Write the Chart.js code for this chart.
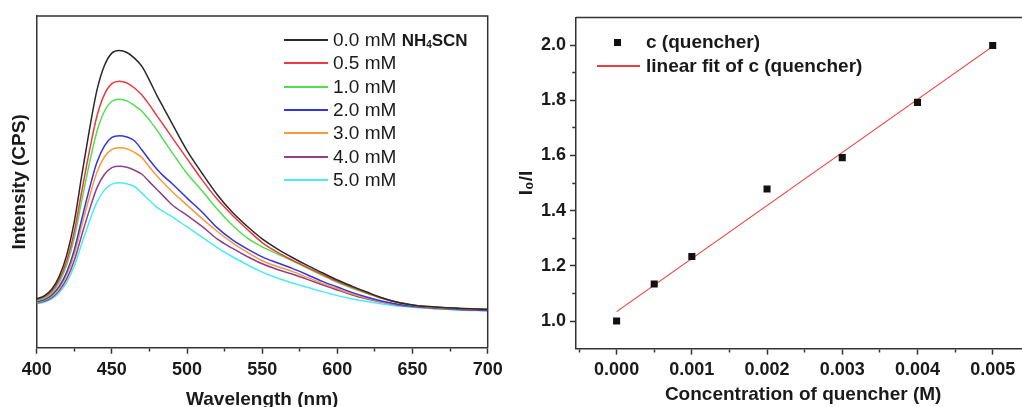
<!DOCTYPE html>
<html>
<head>
<meta charset="utf-8">
<script src="https://cdn.jsdelivr.net/npm/chart.js@4.4.1/dist/chart.umd.min.js"></script>
<style>
  html, body { margin: 0; padding: 0; background: #fff; }
  body { width: 1022px; height: 407px; overflow: hidden; position: relative; font-family: "Liberation Sans", Arial, sans-serif; color: #1a1a1a; }
  canvas { position: absolute; top: 0; }
  #spectra { left: 0; }
  #sternVolmer { left: 505px; }
  .row { position: absolute; height: 22px; line-height: 22px; white-space: nowrap; }
  .swatch { position: absolute; height: 2px; }
  .lbl { position: absolute; font-size: 19px; }
  .lbl b { font-size: 17px; }
  .lbl sub { font-size: 10px; vertical-align: -2px; }
  .bold { font-weight: bold; }
</style>
</head>
<body>
<canvas id="spectra" width="510" height="407"></canvas>
<canvas id="sternVolmer" width="540" height="407"></canvas>
<div id="legendLeft"></div>
<div id="legendRight"></div>
<script>
// --- left panel: emission spectra (arbitrary intensity units, no y labels) ---
const wavelengths = [400, 405, 410, 415, 420, 425, 430, 435, 440, 445, 450, 455, 460, 465,
  470, 475, 480, 485, 490, 500, 510, 520, 530, 540, 550, 560, 570, 580, 590, 600, 610, 620, 630, 640, 650, 660, 680, 700];

const c00 = [14.7, 15.6, 17.6, 21.5, 28.0, 38.0, 52.0, 65.5, 77.5, 85.0, 88.8, 89.6, 89.0, 87.3,
  84.8, 80.6, 76.0, 71.8, 67.6, 59.4, 52.6, 46.2, 40.9, 36.6, 32.8, 29.8, 27.2, 24.8, 22.6, 20.4, 18.5, 16.7, 15.0, 13.7, 12.9, 12.4, 11.9, 11.6];
const c05 = [14.5, 15.3, 17.0, 20.5, 26.2, 35.0, 47.2, 59.1, 69.7, 76.3, 79.6, 80.3, 79.8, 78.3,
  76.2, 73.2, 69.9, 66.7, 63.4, 57.0, 50.6, 44.8, 40.0, 35.7, 31.7, 28.8, 26.4, 24.2, 22.1, 20.0, 18.2, 16.5, 14.9, 13.7, 12.9, 12.4, 11.9, 11.6];
const c10 = [14.2, 14.9, 16.5, 19.7, 25.0, 33.1, 44.4, 55.4, 65.1, 71.2, 74.3, 74.9, 74.4, 73.0,
  71.3, 68.6, 65.6, 62.2, 58.9, 52.5, 47.3, 41.8, 37.0, 33.1, 30.4, 28.3, 26.2, 24.0, 21.8, 19.7, 17.9, 16.3, 14.8, 13.6, 12.8, 12.3, 11.8, 11.5];
const c20 = [13.9, 14.5, 15.9, 18.5, 22.8, 29.5, 38.8, 47.8, 55.8, 60.8, 63.4, 63.9, 63.5, 62.4,
  59.6, 56.6, 53.8, 51.5, 49.5, 45.1, 40.9, 36.2, 32.6, 29.8, 27.4, 25.6, 23.9, 22.0, 20.0, 18.3, 16.6, 15.2, 14.0, 13.1, 12.5, 12.1, 11.6, 11.3];
const c30 = [13.7, 14.3, 15.5, 18.0, 22.0, 28.2, 36.9, 45.3, 52.8, 57.5, 59.8, 60.3, 60.0, 58.9,
  57.3, 54.5, 51.8, 49.4, 47.1, 43.0, 38.9, 35.1, 31.7, 28.8, 26.2, 24.5, 23.0, 21.2, 19.4, 17.8, 16.2, 14.9, 13.8, 13.0, 12.4, 12.0, 11.6, 11.3];
const c40 = [13.5, 14.0, 15.1, 17.2, 20.8, 26.3, 34.0, 41.4, 48.1, 52.2, 54.3, 54.7, 54.4, 53.5,
  52.3, 50.0, 47.7, 45.4, 43.1, 39.9, 36.6, 32.8, 30.0, 27.5, 25.3, 23.6, 22.2, 20.6, 19.0, 17.4, 15.9, 14.7, 13.7, 12.9, 12.4, 12.0, 11.5, 11.2];
const c50 = [13.3, 13.7, 14.7, 16.6, 19.8, 24.6, 31.4, 38.0, 43.8, 47.5, 49.3, 49.7, 49.4, 48.6,
  46.6, 44.4, 42.3, 40.9, 39.5, 36.4, 33.3, 30.2, 27.5, 25.0, 22.8, 21.0, 19.5, 18.2, 16.9, 15.7, 14.7, 13.9, 13.2, 12.6, 12.2, 11.9, 11.4, 11.1];

const spectraSeries = [c00, c05, c10, c20, c30, c40, c50];
const spectraLabels = ['0.0 mM', '0.5 mM', '1.0 mM', '2.0 mM', '3.0 mM', '4.0 mM', '5.0 mM'];
const spectraColors = ['#2a2a2a', '#f0393c', '#4fe04f', '#3434e4', '#fa9a3c', '#8f3f8f', '#48ecf2'];
const wavelengthTicks = [400, 425, 450, 475, 500, 525, 550, 575, 600, 625, 650, 675, 700];

// --- right panel: Stern-Volmer plot ---
const quencherConc = [0, 0.0005, 0.001, 0.002, 0.003, 0.004, 0.005];
const ratioI0I = [1.0, 1.134, 1.234, 1.478, 1.592, 1.792, 1.998];
const fitConc = [0, 0.005];
const fitRatio = [1.034, 1.995];
const concTicks = [-0.0005, 0, 0.0005, 0.001, 0.0015, 0.002, 0.0025, 0.003, 0.0035, 0.004, 0.0045, 0.005];
const ratioTicks = [1.0, 1.1, 1.2, 1.3, 1.4, 1.5, 1.6, 1.7, 1.8, 1.9, 2.0];

const axisColor = '#333';
const textColor = '#1a1a1a';
const fontFamily = '"Liberation Sans", Arial, sans-serif';

// top + right edge of the plot frame
const framePlugin = {
  id: 'frame',
  afterDraw(chart) {
    const { ctx, chartArea: a } = chart;
    ctx.save();
    ctx.strokeStyle = axisColor;
    ctx.lineWidth = 1.5;
    ctx.beginPath();
    ctx.moveTo(a.left, a.top);
    ctx.lineTo(a.right, a.top);
    ctx.lineTo(a.right, a.bottom);
    ctx.stroke();
    ctx.restore();
  }
};

// minor ticks: short dash next to the axis line
// (x ticks are stroked from the axis outward, left-y ticks from the outside in)
const minorDash = (isMinor, pattern) => (ctx) => (ctx.tick && isMinor(ctx.tick.value) ? pattern : []);

new Chart(document.getElementById('spectra'), {
  type: 'line',
  data: {
    datasets: spectraSeries.map((vals, i) => ({
      label: spectraLabels[i],
      data: wavelengths.map((w, j) => ({ x: w, y: vals[j] })),
      borderColor: spectraColors[i],
      borderWidth: 1.5,
      pointRadius: 0,
      cubicInterpolationMode: 'monotone',
      order: i
    }))
  },
  options: {
    responsive: false,
    animation: false,
    layout: { padding: { top: 16, right: 22.3, left: 0, bottom: 0 } },
    plugins: { legend: { display: false }, tooltip: { enabled: false } },
    scales: {
      x: {
        type: 'linear',
        min: 400, max: 700,
        afterBuildTicks: (s) => { s.ticks = wavelengthTicks.map(v => ({ value: v })); },
        afterFit: (s) => { s.height = 59.3; },
        ticks: {
          autoSkip: false, maxRotation: 0, padding: 5.5, color: textColor,
          font: { family: fontFamily, size: 18, weight: 'bold' },
          callback: (v) => (v % 50 === 0 ? String(v) : '')
        },
        grid: {
          drawOnChartArea: false, tickLength: 6, tickColor: axisColor, tickWidth: 1.5,
          tickBorderDash: minorDash(v => v % 50 !== 0, [3, 20])
        },
        border: { color: axisColor, width: 1.5 },
        title: {
          display: true, text: 'Wavelength (nm)', color: textColor,
          font: { family: fontFamily, size: 19, weight: 'bold' },
          padding: { top: 0, bottom: -3.8 }
        }
      },
      y: {
        min: 0, max: 100,
        afterFit: (s) => { s.width = 36.7; },
        ticks: { display: false },
        grid: { drawOnChartArea: false, drawTicks: false },
        border: { color: axisColor, width: 1.5 },
        title: {
          display: true, text: 'Intensity (CPS)', color: textColor,
          font: { family: fontFamily, size: 19, weight: 'bold' },
          padding: { top: 8.6, bottom: 0 }
        }
      }
    }
  },
  plugins: [framePlugin]
});

new Chart(document.getElementById('sternVolmer'), {
  type: 'scatter',
  data: {
    datasets: [
      {
        label: 'c (quencher)',
        data: quencherConc.map((c, i) => ({ x: c, y: ratioI0I[i] })),
        pointStyle: 'rect',
        pointRadius: 5,
        backgroundColor: '#111',
        borderWidth: 0,
        order: 0
      },
      {
        label: 'linear fit of c (quencher)',
        type: 'line',
        data: fitConc.map((c, i) => ({ x: c, y: fitRatio[i] })),
        borderColor: '#ee3b3b',
        borderWidth: 1.2,
        pointRadius: 0,
        order: 1
      }
    ]
  },
  options: {
    responsive: false,
    animation: false,
    layout: { padding: { top: 17.4, right: 14.7, left: 0, bottom: 0 } },
    plugins: { legend: { display: false }, tooltip: { enabled: false } },
    scales: {
      x: {
        type: 'linear',
        min: -0.00054, max: 0.0055,
        afterBuildTicks: (s) => { s.ticks = concTicks.map(v => ({ value: v })); },
        afterFit: (s) => { s.height = 58.4; },
        ticks: {
          autoSkip: false, maxRotation: 0, padding: 4.3, color: textColor,
          font: { family: fontFamily, size: 18, weight: 'bold' },
          callback: (v) => (Math.round(v * 2000) % 2 === 0 && v >= 0 ? v.toFixed(3) : '')
        },
        grid: {
          drawOnChartArea: false, tickLength: 6, tickColor: axisColor, tickWidth: 1.5,
          tickBorderDash: minorDash(v => Math.round(v * 2000) % 2 !== 0, [3, 20])
        },
        border: { color: axisColor, width: 1.5 },
        title: {
          display: true, text: 'Concentration of quencher (M)', color: textColor,
          font: { family: fontFamily, size: 19, weight: 'bold' },
          padding: { top: 0, bottom: 0.6 }
        }
      },
      y: {
        min: 0.9, max: 2.1,
        afterBuildTicks: (s) => { s.ticks = ratioTicks.map(v => ({ value: v })); },
        afterFit: (s) => { s.width = 71; },
        ticks: {
          autoSkip: false, padding: 4, color: textColor,
          font: { family: fontFamily, size: 18, weight: 'bold' },
          callback: (v) => (Math.round(v * 10) % 2 === 0 ? v.toFixed(1) : '')
        },
        grid: {
          drawOnChartArea: false, tickLength: 6, tickColor: axisColor, tickWidth: 1.5,
          tickBorderDash: minorDash(v => Math.round(v * 10) % 2 !== 0, [0, 2.3, 3, 20])
        },
        border: { color: axisColor, width: 1.5 },
        title: {
          display: true, text: 'I\u2080/I', color: textColor,
          font: { family: fontFamily, size: 19, weight: 'bold' },
          padding: { top: 10.6, bottom: 0 }
        }
      }
    }
  },
  plugins: [framePlugin]
});

// HTML legends (mixed weights / subscript in the first label)
const legendLeft = document.getElementById('legendLeft');
spectraLabels.forEach((lab, i) => {
  const cy = Math.round(40 + i * 23.33);
  const sw = document.createElement('div');
  sw.className = 'swatch';
  sw.style.cssText = `left:284px; width:44px; top:${cy - 1}px; background:${spectraColors[i]};`;
  legendLeft.appendChild(sw);
  const t = document.createElement('div');
  t.className = 'row lbl';
  t.style.cssText = `left:333px; top:${cy - 11}px;`;
  t.innerHTML = i === 0 ? `${lab} <b>NH<sub>4</sub>SCN</b>` : lab;
  legendLeft.appendChild(t);
});

const legendRight = document.getElementById('legendRight');
legendRight.innerHTML = `
  <div style="position:absolute; left:614px; top:39px; width:7px; height:7px; background:#111;"></div>
  <div class="row lbl bold" style="left:646px; top:31px;">c (quencher)</div>
  <div class="swatch" style="left:597px; width:43px; top:65px; height:1.5px; background:#ee3b3b;"></div>
  <div class="row lbl bold" style="left:646px; top:55px;">linear fit of c (quencher)</div>
`;
</script>
</body>
</html>
